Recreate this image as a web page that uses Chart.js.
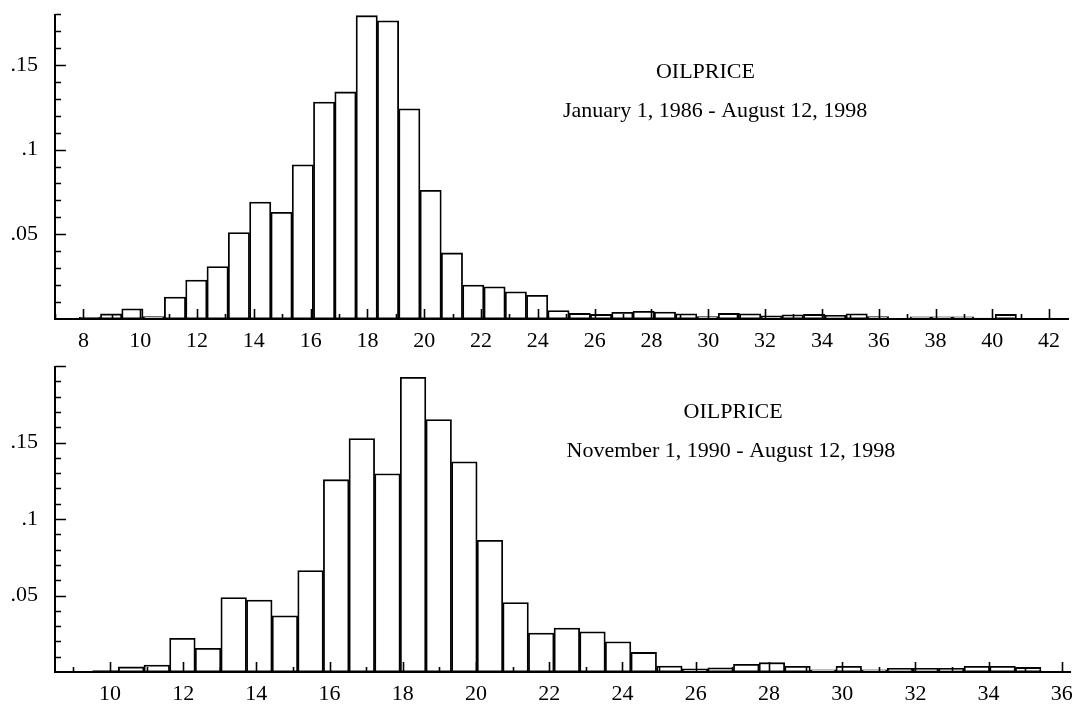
<!DOCTYPE html>
<html>
<head>
<meta charset="utf-8">
<script src="https://cdn.jsdelivr.net/npm/chart.js@4.4.0/dist/chart.umd.min.js"></script>
<style>
    body { margin: 0; background: #fff; }
    canvas { display: block; }
</style>
</head>
<body>
<canvas id="fullPeriod" width="1072" height="352"></canvas>
<canvas id="latePeriod" width="1072" height="352"></canvas>
<script>
// bin centers (price) and relative frequencies, 1986-1998
const binsFull = [8.225, 8.975, 9.725, 10.475, 11.225, 11.975, 12.725, 13.475, 14.225, 14.975,
    15.725, 16.475, 17.225, 17.975, 18.725, 19.475, 20.225, 20.975, 21.725, 22.475,
    23.225, 23.975, 24.725, 25.475, 26.225, 26.975, 27.725, 28.475, 29.225, 29.975,
    30.725, 31.475, 32.225, 32.975, 33.725, 34.475, 35.225, 35.975, 36.725, 37.475,
    38.225, 38.975, 39.725, 40.475, 41.225, 41.975];
const freqFull = [0.001, 0.003, 0.006, 0.0015, 0.013, 0.023, 0.031, 0.051, 0.069, 0.063,
    0.091, 0.128, 0.134, 0.179, 0.176, 0.124, 0.076, 0.039, 0.020, 0.019,
    0.016, 0.014, 0.005, 0.0033, 0.0027, 0.0039, 0.0045, 0.0041, 0.0031, 0.0014,
    0.0033, 0.0031, 0.0018, 0.0025, 0.0027, 0.0022, 0.0031, 0.0014, 0.0004, 0.0013,
    0.0013, 0.0013, 0.0006, 0.0027, 0, 0.0004];

// 1990-1998
const binsLate = [9.88, 10.58, 11.28, 11.98, 12.68, 13.38, 14.08, 14.78, 15.48, 16.18,
    16.88, 17.58, 18.28, 18.98, 19.68, 20.38, 21.08, 21.78, 22.48, 23.18,
    23.88, 24.58, 25.28, 25.98, 26.68, 27.38, 28.08, 28.78, 29.48, 30.18,
    30.88, 31.58, 32.28, 32.98, 33.68, 34.38, 35.08];
const freqLate = [0.001, 0.0033, 0.0046, 0.022, 0.0155, 0.0487, 0.047, 0.0367, 0.0663, 0.1257,
    0.1526, 0.1296, 0.1926, 0.165, 0.1374, 0.0861, 0.0454, 0.0254, 0.0287, 0.0263,
    0.0198, 0.0128, 0.0039, 0.002, 0.0028, 0.005, 0.0061, 0.0037, 0.0015, 0.0037,
    0.0015, 0.0024, 0.0024, 0.0024, 0.0037, 0.0037, 0.003];

const xTicksFull = [8, 10, 12, 14, 16, 18, 20, 22, 24, 26, 28, 30, 32, 34, 36, 38, 40, 42];
const xTicksLate = [10, 12, 14, 16, 18, 20, 22, 24, 26, 28, 30, 32, 34, 36];
const yTicks = [0.05, 0.1, 0.15];

const serif = 'Liberation Serif, Times New Roman, serif';

// axis lines plus inward tick marks (every unit on x, every .01 on y)
const axisTicks = {
    id: 'axisTicks',
    afterDatasetsDraw(chart) {
        const {ctx, chartArea: a, scales: {x, y}} = chart;
        ctx.save();
        ctx.strokeStyle = '#000';
        ctx.lineWidth = 2;
        ctx.beginPath();
        ctx.moveTo(a.left, a.top);
        ctx.lineTo(a.left, a.bottom);
        ctx.lineTo(a.right, a.bottom);
        ctx.stroke();
        ctx.lineWidth = 1.6;
        ctx.beginPath();
        for (let v = Math.ceil(x.min); v <= x.max; v++) {
            const px = Math.round(x.getPixelForValue(v)) + 0.5;
            ctx.moveTo(px, a.bottom);
            ctx.lineTo(px, a.bottom - (v % 2 === 0 ? 10 : 5));
        }
        for (let i = 1; i * 0.01 <= y.max + 1e-9; i++) {
            const py = Math.round(y.getPixelForValue(i * 0.01)) + 0.5;
            ctx.moveTo(a.left, py);
            ctx.lineTo(a.left + (i % 5 === 0 ? 11 : 6), py);
        }
        ctx.stroke();
        ctx.restore();
    }
};

// series name and sample period written inside the plot
const caption = {
    id: 'caption',
    afterDraw(chart, args, opts) {
        const {ctx, scales: {x, y}} = chart;
        ctx.save();
        ctx.fillStyle = '#000';
        ctx.font = '22px ' + serif;
        ctx.textAlign = 'center';
        ctx.textBaseline = 'alphabetic';
        for (const line of opts.lines) {
            ctx.fillText(line.text, x.getPixelForValue(line.x), y.getPixelForValue(line.y));
        }
        ctx.restore();
    }
};

const createHistogram = (id, bins, freq, xMin, xMax, yMax, xTicks, lines, pad) => {
    return new Chart(document.getElementById(id), {
        type: 'bar',
        data: {
            datasets: [{
                data: bins.map((b, i) => ({x: b, y: freq[i]})),
                backgroundColor: '#fff',
                borderColor: '#000',
                borderWidth: 1.8,
                borderSkipped: false,
                barPercentage: 1,
                categoryPercentage: 1
            }]
        },
        options: {
            responsive: false,
            animation: false,
            devicePixelRatio: 1,
            layout: {padding: {top: pad.top, right: pad.right, left: 0, bottom: 0}},
            plugins: {
                legend: {display: false},
                tooltip: {enabled: false},
                caption: {lines: lines}
            },
            scales: {
                x: {
                    type: 'linear',
                    min: xMin,
                    max: xMax,
                    offset: false,
                    grid: {display: false},
                    border: {display: false},
                    ticks: {color: '#000', font: {family: serif, size: 22}, padding: 1, maxRotation: 0, autoSkip: false},
                    afterBuildTicks: s => { s.ticks = xTicks.map(v => ({value: v})); },
                    afterFit: s => {
                        s.height = pad.xHeight;
                        s.paddingLeft = 0;
                        s.paddingRight = 0;
                    }
                },
                y: {
                    min: 0,
                    max: yMax,
                    grid: {display: false},
                    border: {display: false},
                    ticks: {
                        color: '#000',
                        font: {family: serif, size: 22},
                        padding: 9,
                        callback: v => String(v).replace(/^0/, '')
                    },
                    afterBuildTicks: s => { s.ticks = yTicks.map(v => ({value: v})); },
                    afterFit: s => {
                        s.width = 55;
                        s.paddingTop = 0;
                        s.paddingBottom = 0;
                    }
                }
            }
        },
        plugins: [axisTicks, caption]
    });
};

createHistogram('fullPeriod', binsFull, freqFull, 7, 42.7, 0.18, xTicksFull, [
    {text: 'OILPRICE', x: 29.9, y: 0.142},
    {text: 'January 1, 1986 - August 12, 1998', x: 30.24, y: 0.1194}
], {top: 14, right: 3, xHeight: 33});

createHistogram('latePeriod', binsLate, freqLate, 8.5, 36.25, 0.2, xTicksLate, [
    {text: 'OILPRICE', x: 27.02, y: 0.1663},
    {text: 'November 1, 1990 - August 12, 1998', x: 26.96, y: 0.1406}
], {top: 14, right: 1, xHeight: 32});
</script>
</body>
</html>
